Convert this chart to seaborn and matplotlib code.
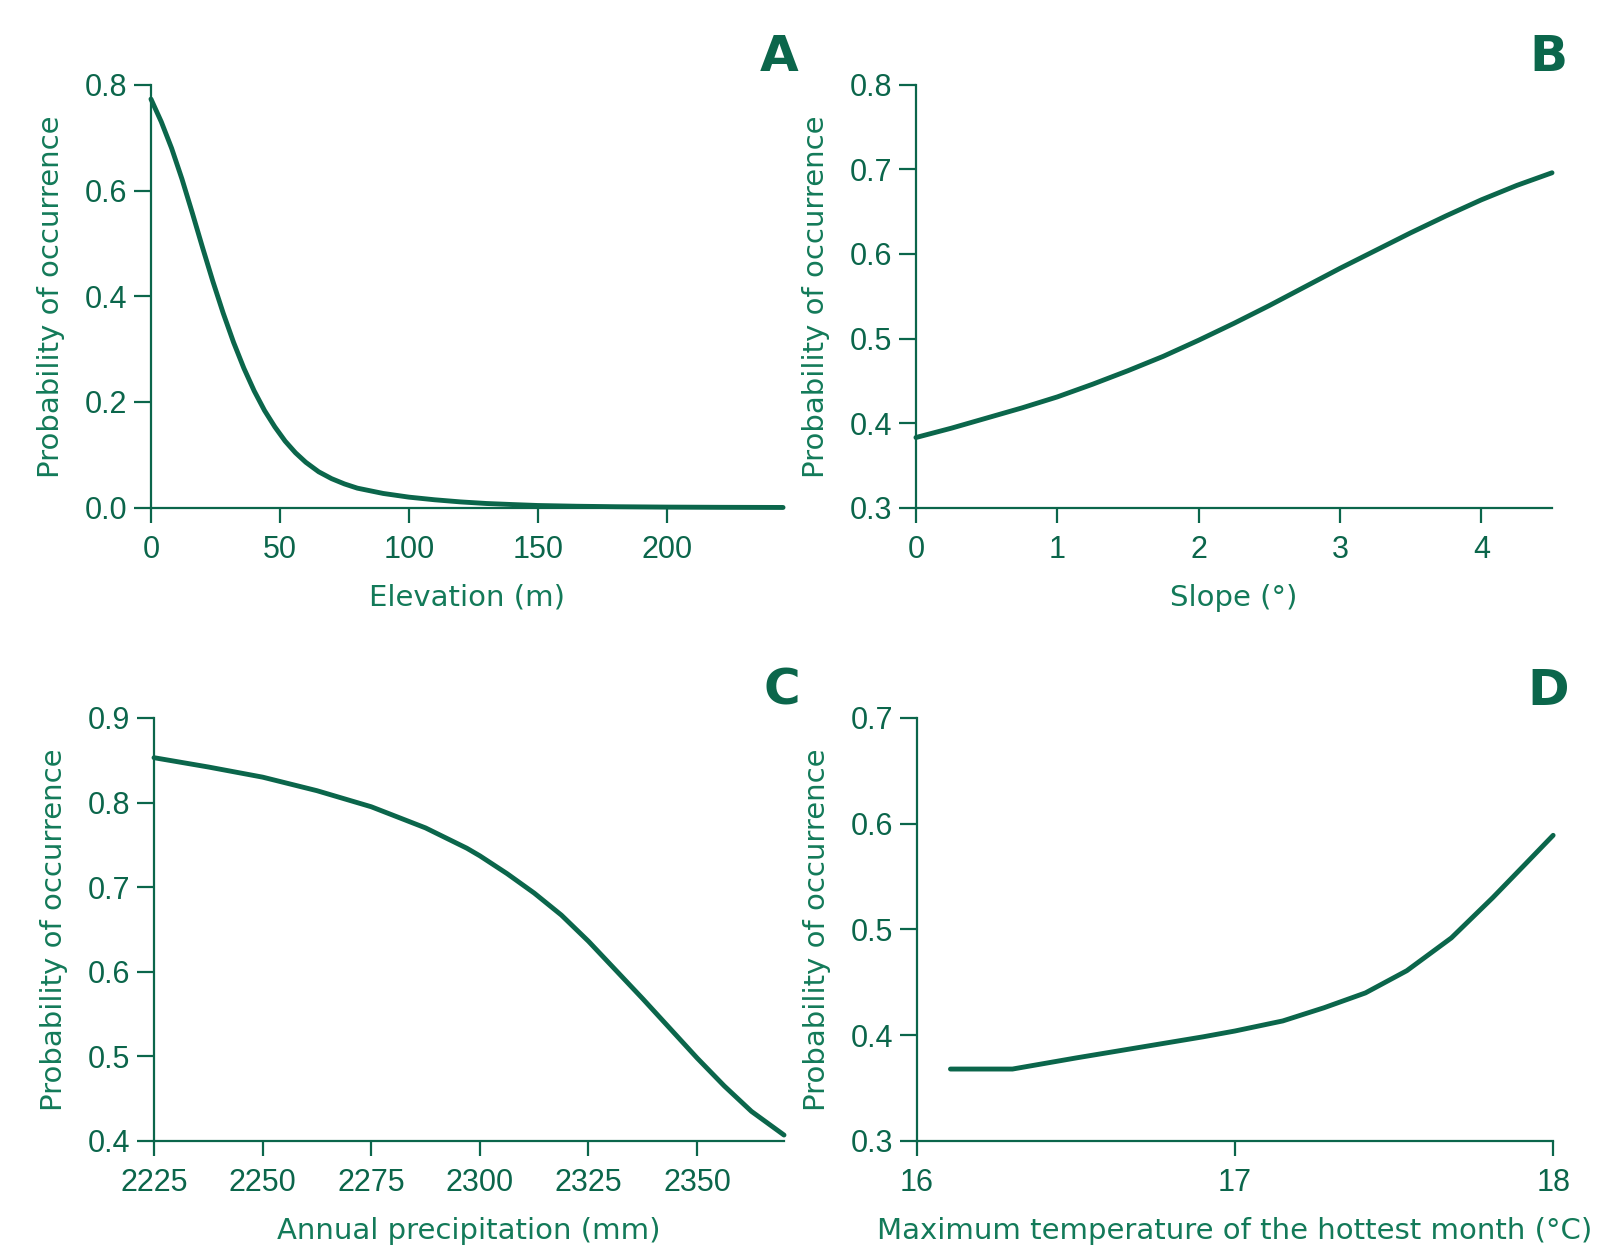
import matplotlib
matplotlib.use("Agg")
import matplotlib.pyplot as plt
import seaborn as sns
import pandas as pd

sns.set_theme(style="ticks")
plt.rcParams['font.family'] = ['Liberation Sans', 'DejaVu Sans']

GREEN = "#0b664b"
LABEL_GREEN = "#137a59"

# Panel A: elevation
elev_x = [0, 4, 8, 12, 16, 20, 24, 28, 32, 36, 40, 44, 48, 52, 56, 60, 65, 70, 75, 80, 90,
          100, 110, 120, 130, 140, 150, 165, 180, 200, 220, 245]
elev_y = [0.773, 0.730, 0.680, 0.622, 0.558, 0.492, 0.428, 0.368, 0.313, 0.264, 0.221, 0.184,
          0.153, 0.126, 0.104, 0.086, 0.068, 0.055, 0.045, 0.037, 0.027, 0.020, 0.015, 0.011,
          0.008, 0.006, 0.0042, 0.0028, 0.0019, 0.0012, 0.0008, 0.0005]

# Panel B: slope
slope_x = [0, 0.25, 0.5, 0.75, 1, 1.25, 1.5, 1.75, 2, 2.25, 2.5, 2.75, 3, 3.25, 3.5, 3.75, 4, 4.25, 4.5]
slope_y = [0.383, 0.394, 0.406, 0.418, 0.431, 0.446, 0.462, 0.479, 0.498, 0.518, 0.539, 0.561,
           0.583, 0.604, 0.625, 0.645, 0.664, 0.681, 0.696]

# Panel C: annual precipitation
prec_x = [2225, 2237.5, 2250, 2262.5, 2275, 2287.5, 2297, 2300, 2306.25, 2312.5, 2318.75, 2325,
          2331.25, 2337.5, 2343.75, 2350, 2356.25, 2362.5, 2370]
prec_y = [0.853, 0.842, 0.830, 0.814, 0.795, 0.770, 0.746, 0.737, 0.716, 0.693, 0.667, 0.636,
          0.602, 0.568, 0.533, 0.498, 0.465, 0.435, 0.407]

# Panel D: max temperature of hottest month
temp_x = [16.105, 16.2, 16.3, 16.5, 16.7, 16.9, 17.0, 17.15, 17.28, 17.41, 17.54, 17.68,
          17.81, 17.91, 18.0]
temp_y = [0.368, 0.368, 0.368, 0.3785, 0.3885, 0.3985, 0.404, 0.4135, 0.426, 0.440, 0.461,
          0.492, 0.530, 0.561, 0.589]

panels = [
    dict(x=elev_x, y=elev_y, xlabel="Elevation (m)", letter="A",
         xlim=(0, 245), ylim=(0, 0.8), xticks=[0, 50, 100, 150, 200],
         yticks=[0.0, 0.2, 0.4, 0.6, 0.8],
         rect=[0.0943, 0.5935, 0.3948, 0.3386]),
    dict(x=slope_x, y=slope_y, xlabel="Slope (°)", letter="B",
         xlim=(0, 4.5), ylim=(0.3, 0.8), xticks=[0, 1, 2, 3, 4],
         yticks=[0.3, 0.4, 0.5, 0.6, 0.7, 0.8],
         rect=[0.5721, 0.5935, 0.3973, 0.3386]),
    dict(x=prec_x, y=prec_y, xlabel="Annual precipitation (mm)", letter="C",
         xlim=(2225, 2370), ylim=(0.4, 0.9), xticks=[2225, 2250, 2275, 2300, 2325, 2350],
         yticks=[0.4, 0.5, 0.6, 0.7, 0.8, 0.9],
         rect=[0.0962, 0.0865, 0.3935, 0.3387]),
    dict(x=temp_x, y=temp_y, xlabel="Maximum temperature of the hottest month (°C)", letter="D",
         xlim=(16, 18), ylim=(0.3, 0.7), xticks=[16, 17, 18],
         yticks=[0.3, 0.4, 0.5, 0.6, 0.7],
         rect=[0.5728, 0.0865, 0.3973, 0.3387]),
]

fig = plt.figure(figsize=(16.01, 12.49), dpi=100)

for p in panels:
    ax = fig.add_axes(p["rect"])
    df = pd.DataFrame({"x": p["x"], "y": p["y"]})
    sns.lineplot(data=df, x="x", y="y", ax=ax, color=GREEN, linewidth=3.5,
                 solid_capstyle="round", solid_joinstyle="round", clip_on=False)
    ax.set_xlim(*p["xlim"])
    ax.set_ylim(*p["ylim"])
    ax.set_xticks(p["xticks"])
    ax.set_xticklabels(["{:g}".format(v) for v in p["xticks"]])
    ax.set_yticks(p["yticks"])
    ax.set_yticklabels(["{:.1f}".format(v) for v in p["yticks"]])
    for s in ["top", "right"]:
        ax.spines[s].set_visible(False)
    for s in ["left", "bottom"]:
        ax.spines[s].set_color(GREEN)
        ax.spines[s].set_linewidth(1.6)
    ax.tick_params(axis="both", colors=GREEN, labelcolor=GREEN, width=1.6,
                   labelsize=22, direction="out")
    ax.tick_params(axis="x", length=11, pad=8.5)
    ax.tick_params(axis="y", length=12.5, pad=4.5)
    ax.set_xlabel(p["xlabel"], color=LABEL_GREEN, fontsize=21,
                  family=["DejaVu Sans"], labelpad=13.5)
    ax.set_ylabel("Probability of occurrence", color=LABEL_GREEN, fontsize=21,
                  family=["DejaVu Sans"], labelpad=14)
    ax.text(1.025, 1.008, p["letter"], transform=ax.transAxes, ha="right", va="bottom",
            fontsize=36, fontweight="bold", color=GREEN, family=["DejaVu Sans"])
    ax.grid(False)

fig.savefig("out.png", dpi=100, facecolor="white")
